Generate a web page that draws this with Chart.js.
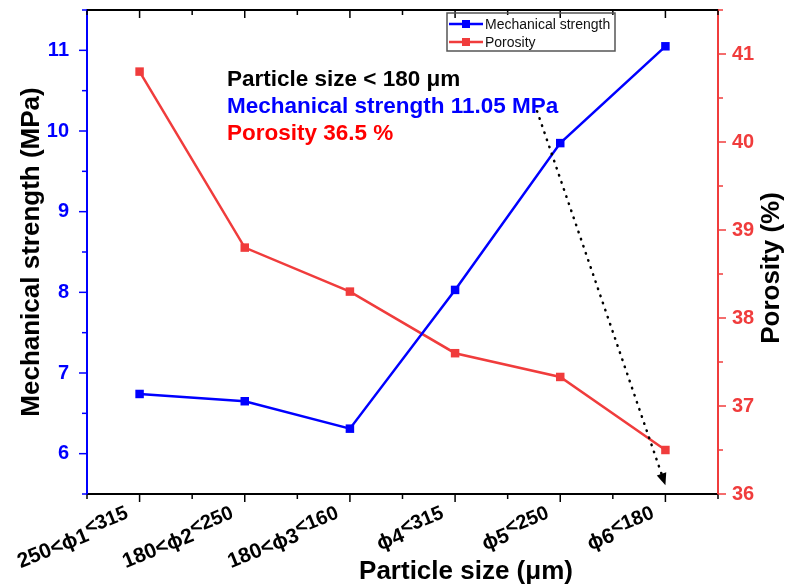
<!DOCTYPE html>
<html>
<head>
<meta charset="utf-8">
<script src="https://cdn.jsdelivr.net/npm/chart.js@4"></script>
<style>
  body { margin: 0; background: #fff; }
  #wrap { width: 785px; height: 587px; }
</style>
</head>
<body>
<div id="wrap"><canvas id="chart"></canvas></div>
<script>
// tick labels: main part + raised part (as in the original figure)
const sizeMain = ['250<ϕ1', '180<ϕ2', '180<ϕ3', 'ϕ4', 'ϕ5', 'ϕ6'];
const sizeSup = ['<315', '<250', '<160', '<315', '<250', '<180'];
const categories = sizeMain.map((m, i) => m + sizeSup[i]);

const strength = [6.74, 6.65, 6.31, 8.03, 9.85, 11.05]; // MPa
const porosity = [40.8, 38.8, 38.3, 37.6, 37.33, 36.5]; // %

const noteLines = ['Particle size < 180 μm', 'Mechanical strength 11.05 MPa', 'Porosity 36.5 %'];
const noteColors = ['#000000', '#0000ff', '#ff0000'];

const BLUE = '#0000ff';
const RED = '#f03c3c';
const FONT = "'Liberation Sans', Arial, sans-serif";

// frame ticks, x labels, titles, legend, note and arrow
const extras = {
    id: 'extras',
    beforeDraw(chart) {
        const c = chart.ctx;
        c.save();
        c.fillStyle = '#fff';
        c.fillRect(0, 0, chart.width, chart.height);
        c.restore();
    },
    afterDraw(chart) {
        const c = chart.ctx;
        const a = chart.chartArea;
        const x = chart.scales.x, yl = chart.scales.y, yr = chart.scales.y1;
        c.save();

        // top border
        c.strokeStyle = '#000';
        c.lineWidth = 2;
        c.beginPath();
        c.moveTo(a.left, a.top);
        c.lineTo(a.right, a.top);
        c.stroke();

        // x ticks (major at categories, minor between)
        c.lineWidth = 1.5;
        for (let i = -0.5; i <= categories.length - 0.5; i += 0.5) {
            const px = x.getPixelForValue(i);
            const len = Number.isInteger(i) ? 8 : 5;
            c.beginPath();
            c.moveTo(px, a.bottom);
            c.lineTo(px, a.bottom + len);
            c.moveTo(px, a.top);
            c.lineTo(px, a.top + len);
            c.stroke();
        }

        // y ticks
        yl.ticks.forEach(t => {
            const py = yl.getPixelForValue(t.value);
            const len = Number.isInteger(t.value) ? 8 : 5;
            c.strokeStyle = BLUE;
            c.beginPath();
            c.moveTo(a.left, py);
            c.lineTo(a.left - len, py);
            c.stroke();
        });
        yr.ticks.forEach(t => {
            const py = yr.getPixelForValue(t.value);
            const len = Number.isInteger(t.value) ? 8 : 5;
            c.strokeStyle = RED;
            c.beginPath();
            c.moveTo(a.right, py);
            c.lineTo(a.right + len, py);
            c.stroke();
        });

        // rotated x labels with raised part
        const fMain = 'bold 21px ' + FONT;
        const fSup = 'bold 20px ' + FONT;
        c.fillStyle = '#000';
        c.textBaseline = 'middle';
        c.textAlign = 'left';
        categories.forEach((_, i) => {
            const px = x.getPixelForValue(i);
            c.save();
            c.translate(px - 10, a.bottom + 24);
            c.rotate(-22 * Math.PI / 180);
            c.font = fSup;
            const ws = c.measureText(sizeSup[i]).width;
            c.font = fMain;
            const wm = c.measureText(sizeMain[i]).width;
            c.fillText(sizeMain[i], -ws - wm, 0);
            c.font = fSup;
            c.fillText(sizeSup[i], -ws, -6);
            c.restore();
        });

        // x title and right title
        c.font = 'bold 26px ' + FONT;
        c.fillStyle = '#000';
        c.textAlign = 'center';
        c.textBaseline = 'middle';
        c.fillText(x.options.title.text, a.left + 379, chart.height - 15);
        c.save();
        c.translate(chart.width - 13, (a.top + a.bottom) / 2 + 16);
        c.rotate(-Math.PI / 2);
        c.fillText(yr.options.title.text, 0, 0);
        c.restore();

        // legend box
        const lx = a.left + 360, ly = a.top + 3;
        c.strokeStyle = '#555';
        c.lineWidth = 1.5;
        c.strokeRect(lx, ly, 168, 38);
        chart.data.datasets.forEach((ds, i) => {
            const cy = ly + 11 + i * 18;
            c.strokeStyle = ds.borderColor;
            c.fillStyle = ds.borderColor;
            c.lineWidth = 2.5;
            c.beginPath();
            c.moveTo(lx + 2, cy);
            c.lineTo(lx + 36, cy);
            c.stroke();
            c.fillRect(lx + 15, cy - 4, 8, 8);
            c.fillStyle = '#111';
            c.font = '14px ' + FONT;
            c.textBaseline = 'middle';
            c.textAlign = 'left';
            c.fillText(ds.label, lx + 38, cy + 1);
        });

        // note text
        c.font = 'bold 22.5px ' + FONT;
        c.textBaseline = 'alphabetic';
        c.textAlign = 'left';
        noteLines.forEach((t, i) => {
            c.fillStyle = noteColors[i];
            c.fillText(t, a.left + 140, a.top + 76 + i * 27);
        });

        // dotted arrow
        const x0 = x.getPixelForValue(3.78), y0 = yr.getPixelForValue(40.35);
        const x1 = x.getPixelForValue(5), y1 = yr.getPixelForValue(36.1);
        const ang = Math.atan2(y1 - y0, x1 - x0);
        const hx = x1 - 12 * Math.cos(ang), hy = y1 - 12 * Math.sin(ang);
        c.strokeStyle = '#000';
        c.lineWidth = 2.5;
        c.lineCap = 'round';
        c.setLineDash([0.5, 7]);
        c.beginPath();
        c.moveTo(x0, y0);
        c.lineTo(hx, hy);
        c.stroke();
        c.setLineDash([]);
        c.fillStyle = '#000';
        c.beginPath();
        c.moveTo(x1, y1);
        c.lineTo(hx + 5 * Math.sin(ang), hy - 5 * Math.cos(ang));
        c.lineTo(hx - 5 * Math.sin(ang), hy + 5 * Math.cos(ang));
        c.closePath();
        c.fill();

        c.restore();
    }
};

function noPad(s) {
    s.paddingTop = 0;
    s.paddingBottom = 0;
    s.paddingLeft = 0;
    s.paddingRight = 0;
}

const ctx = document.getElementById('chart').getContext('2d');
new Chart(ctx, {
    type: 'line',
    data: {
        labels: categories,
        datasets: [{
            label: 'Mechanical strength',
            data: strength,
            yAxisID: 'y',
            borderColor: BLUE,
            backgroundColor: BLUE,
            borderWidth: 2.5,
            pointStyle: 'rect',
            pointRadius: 6,
            pointBorderWidth: 0
        }, {
            label: 'Porosity',
            data: porosity,
            yAxisID: 'y1',
            borderColor: RED,
            backgroundColor: RED,
            borderWidth: 2.5,
            pointStyle: 'rect',
            pointRadius: 6,
            pointBorderWidth: 0
        }]
    },
    options: {
        responsive: true,
        maintainAspectRatio: false,
        animation: false,
        layout: { padding: { top: 10, left: 0, right: 0, bottom: 0 } },
        plugins: { legend: { display: false }, tooltip: { enabled: false } },
        scales: {
            x: {
                type: 'category',
                offset: true,
                grid: { display: false, drawTicks: false },
                border: { color: '#000', width: 2 },
                ticks: { display: false },
                title: { display: false, text: 'Particle size (μm)' },
                afterFit(s) { s.height = 93; noPad(s); }
            },
            y: {
                position: 'left',
                min: 5.5,
                max: 11.5,
                grid: { display: false, drawTicks: false },
                border: { color: BLUE, width: 2 },
                ticks: {
                    stepSize: 0.5,
                    padding: 18,
                    color: BLUE,
                    font: { family: FONT, size: 20, weight: 'bold' },
                    callback: v => Number.isInteger(v) ? v : ''
                },
                title: {
                    display: true,
                    text: 'Mechanical strength (MPa)',
                    color: '#000',
                    font: { family: FONT, size: 26, weight: 'bold' },
                    padding: { top: 16, bottom: 0 }
                },
                afterFit(s) { s.width = 87; noPad(s); }
            },
            y1: {
                position: 'right',
                min: 36,
                max: 41.5,
                grid: { display: false, drawTicks: false },
                border: { color: RED, width: 2 },
                ticks: {
                    stepSize: 0.5,
                    padding: 14,
                    color: RED,
                    font: { family: FONT, size: 20, weight: 'bold' },
                    callback: v => Number.isInteger(v) ? v : ''
                },
                title: { display: false, text: 'Porosity (%)' },
                afterFit(s) { s.width = 67; noPad(s); }
            }
        }
    },
    plugins: [extras]
});
</script>
</body>
</html>
